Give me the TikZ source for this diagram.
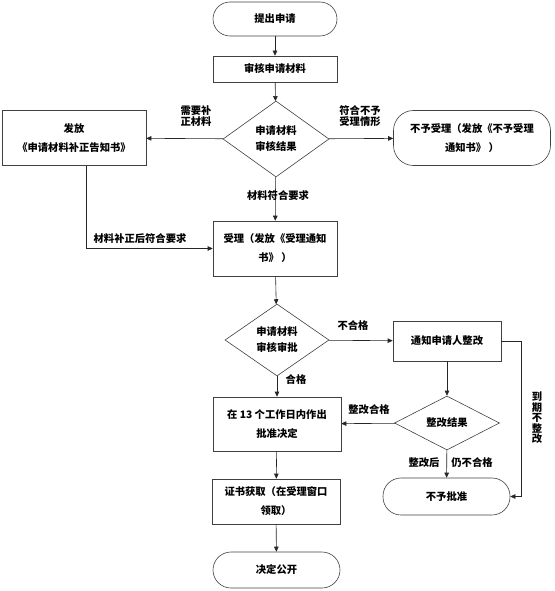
\documentclass[tikz,border=0pt]{standalone}
\usepackage{fontspec}
\newfontfamily\cjk{Noto Sans CJK SC}
\usetikzlibrary{shapes.geometric,arrows.meta}

\begin{document}
\begin{tikzpicture}[x=1pt, y=-1pt, line width=0.6pt,
  every node/.style={font=\cjk\bfseries\fontsize{10.3}{19}\selectfont, inner sep=0pt, align=center},
  box/.style={draw=black!75, rectangle},
  pill/.style={draw=black!75, rectangle, rounded corners=17pt},
  decision/.style={draw=black!75, diamond, font=\cjk\bfseries\fontsize{10.3}{16}\selectfont},
  tag/.style={font=\cjk\bfseries\fontsize{10.3}{11}\selectfont},
  flow/.style={draw=black!85, -{Triangle[length=5pt, width=4.5pt]}}]
  \useasboundingbox (0,0) rectangle (554,591);
  % 主干流程
  \node[pill, minimum width=124pt, minimum height=34pt] (apply) at (275,19) {提出申请};
  \node[box, minimum width=124pt, minimum height=26pt] (review) at (275,69) {审核申请材料};
  \node[decision, minimum width=106pt, minimum height=76pt] (check) at (276,139) {申请材料\\审核结果};
  \node[box, minimum width=144pt, minimum height=55pt] (notice) at (74,138) {发放\\《申请材料补正告知书》};
  \node[pill, rounded corners=20pt, minimum width=157pt, minimum height=55pt] (reject) at (472,138) {不予受理（发放《不予受理\\通知书》 ）};
  \node[box, minimum width=124pt, minimum height=55pt] (accept) at (275,248.5) {受理（发放《受理通知\\书》 ）};
  \node[decision, minimum width=104pt, minimum height=72pt] (approve) at (277,340) {申请材料\\审核审批};
  \node[box, minimum width=108pt, minimum height=40pt] (rectify) at (447,341) {通知申请人整改};
  \node[box, minimum width=128pt, minimum height=54pt] (decide) at (277,424) {在 13 个工作日内作出\\批准决定};
  \node[decision, minimum width=105pt, minimum height=54pt] (result) at (447,423) {整改结果};
  \node[pill, rounded corners=18pt, minimum width=127pt, minimum height=37pt] (deny) at (446.5,496.5) {不予批准};
  \node[box, minimum width=128pt, minimum height=45pt] (cert) at (276,501.5) {证书获取（在受理窗口\\领取）};
  \node[pill, rounded corners=18pt, minimum width=127pt, minimum height=36pt] (publish) at (276.5,570) {决定公开};
  % 连线
  \draw[flow] (apply) -- (review);
  \draw[flow] (review) -- (check);
  \draw[flow] (check) -- (notice);
  \draw[flow] (check) -- (reject);
  \draw[flow] (check) -- (accept);
  \draw[flow] ([xshift=12pt]notice.south) |- (accept.west);
  \draw[flow] (accept) -- (approve);
  \draw[flow] (approve) -- (rectify);
  \draw[flow] (approve) -- (decide);
  \draw[flow] (rectify) -- (result);
  \draw[flow] (result) -- (decide);
  \draw[flow] (result) -- (deny);
  \draw[flow] (rectify.east) -- ++(20,0) |- (deny.east);
  \draw[flow] (decide) -- (cert);
  \draw[flow] (cert) -- (publish);
  % 连线上的文字
  \node[tag, align=left] (needfix) at (196,116) {需要补\\正材料};
  \node[tag] (norule) at (360,116) {符合不予\\受理情形};
  \node[tag] (meet) at (278,196) {材料符合要求};
  \node[tag] (fixmeet) at (140,239) {材料补正后符合要求};
  \node[tag] (fail) at (353,326) {不合格};
  \node[tag] (pass) at (296,380) {合格};
  \node[tag] (fixpass) at (369,410) {整改合格};
  \node[tag] (after) at (424,463) {整改后};
  \node[tag] (still) at (472,463) {仍不合格};
  \node[tag, font=\cjk\bfseries\fontsize{10.3}{10.5}\selectfont] (overdue) at (537,418) {到\\期\\不\\整\\改};
\end{tikzpicture}
\end{document}
